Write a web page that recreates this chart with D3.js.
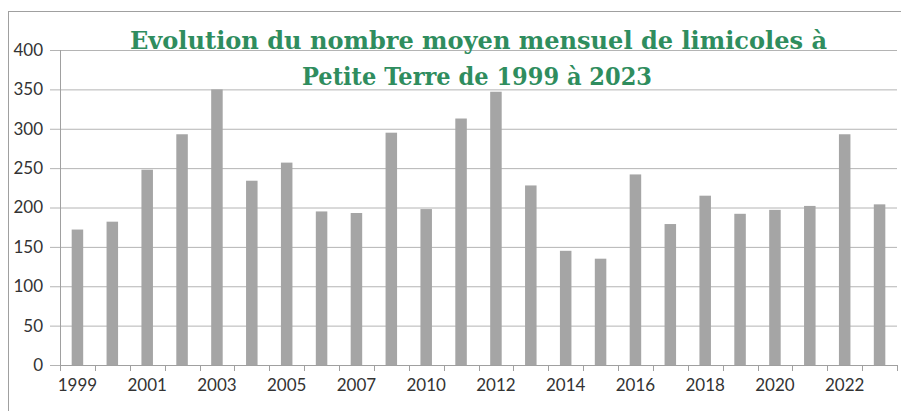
<!DOCTYPE html>
<html>
<head>
<meta charset="utf-8">
<script src="https://cdn.jsdelivr.net/npm/d3@7"></script>
<style>
  body { margin:0; background:#fff; }
  svg { display:block; }
  .tick text { font-family: Lato, "Open Sans", sans-serif; font-size:17px; fill:#333; }
  .title text { font-family: "DejaVu Serif", serif; font-weight:bold; font-size:25px; fill:#2f8d5e; }
</style>
</head>
<body>
<svg id="chart" width="901" height="411"></svg>
<script>
// données
const years = ['1999','2000','2001','2002','2003','2004','2005','2006','2007','2009','2010','2011',
               '2012','2013','2014','2015','2016','2017','2018','2019','2020','2021','2022','2023'];
const values = [172,182,248,293,350,234,257,195,193,295,198,313,
                347,228,145,135,242,179,215,192,197,202,293,204];
const yTicks = [0,50,100,150,200,250,300,350,400];
const xLabels = ['1999','2001','2003','2005','2007','2010','2012','2014','2016','2018','2020','2022'];
const titleLines = ['Evolution du nombre moyen mensuel de limicoles à', 'Petite Terre de 1999 à 2023'];

const svg = d3.select('#chart');
const plot = {left: 60, right: 897, top: 50, bottom: 365};

// cadre
svg.append('rect')
    .attr('x', 8.5).attr('y', 11.5)
    .attr('width', 1000).attr('height', 500)
    .attr('fill', 'none').attr('stroke', '#a0a0a0');

const x = d3.scaleBand().domain(years).range([plot.left, plot.right]).paddingInner(0.67).paddingOuter(0.335);
const y = d3.scaleLinear().domain([0, 400]).range([plot.bottom, plot.top]);

// grille + axe y
const yAxis = svg.append('g')
    .attr('transform', `translate(50,0)`)
    .call(d3.axisLeft(y).tickValues(yTicks).tickSizeInner(-(plot.right - 50)).tickSizeOuter(0).tickPadding(7));
yAxis.select('.domain').remove();
yAxis.selectAll('.tick line').attr('stroke', '#b4b4b4');

svg.append('line')
    .attr('x1', plot.left + .5).attr('x2', plot.left + .5)
    .attr('y1', plot.top).attr('y2', plot.bottom + 6)
    .attr('stroke', '#a0a0a0');

// barres
svg.append('g').selectAll('rect')
    .data(years)
    .join('rect')
    .attr('x', d => x(d))
    .attr('y', (d, i) => y(values[i]))
    .attr('width', x.bandwidth())
    .attr('height', (d, i) => plot.bottom - y(values[i]))
    .attr('fill', '#a5a5a5');

// axe x
const step = x.step();
const bounds = years.map(d => x(d) + x.bandwidth() / 2 - step / 2).concat([plot.right]);
svg.append('line')
    .attr('x1', plot.left).attr('x2', plot.right)
    .attr('y1', plot.bottom + .5).attr('y2', plot.bottom + .5)
    .attr('stroke', '#a0a0a0');
svg.append('g').selectAll('line')
    .data(bounds)
    .join('line')
    .attr('x1', d => Math.round(d) + .5).attr('x2', d => Math.round(d) + .5)
    .attr('y1', plot.bottom).attr('y2', plot.bottom + 6)
    .attr('stroke', '#a0a0a0');

const xAxis = svg.append('g')
    .attr('transform', `translate(0,${plot.bottom})`)
    .call(d3.axisBottom(x).tickValues(xLabels).tickSize(0).tickPadding(14));
xAxis.select('.domain').remove();

// titre
const title = svg.append('g')
    .attr('class', 'title')
    .attr('text-anchor', 'middle');
title.append('text')
    .attr('x', 478.5).attr('y', 49)
    .attr('textLength', 697).attr('lengthAdjust', 'spacingAndGlyphs')
    .text(titleLines[0]);
title.append('text')
    .attr('x', 477).attr('y', 85)
    .attr('textLength', 350).attr('lengthAdjust', 'spacingAndGlyphs')
    .text(titleLines[1]);
</script>
</body>
</html>
